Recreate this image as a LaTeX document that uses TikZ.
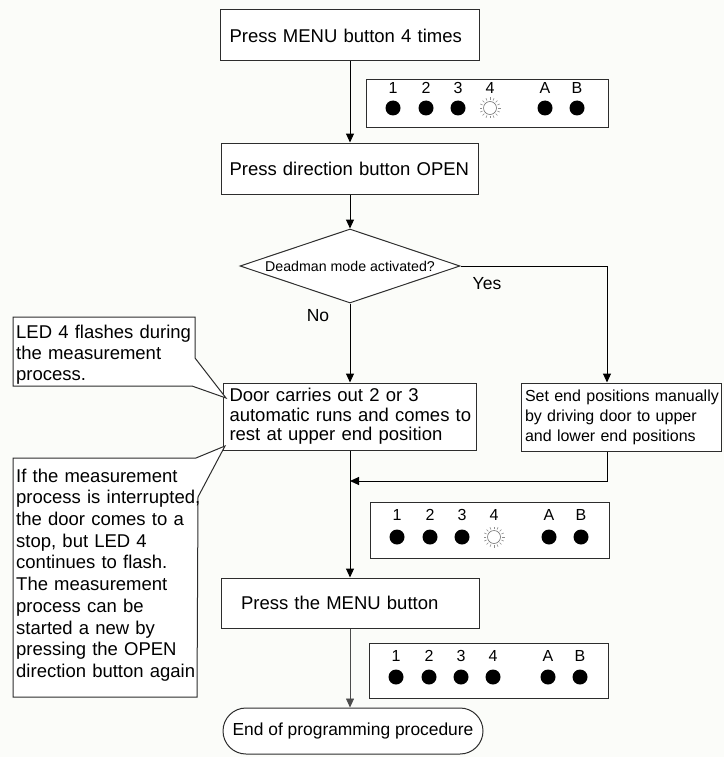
\documentclass[tikz,border=0pt]{standalone}
\usepackage{fontspec}
\setmainfont{Liberation Sans}
\usetikzlibrary{shapes.geometric,arrows.meta}
\definecolor{paper}{RGB}{251,252,249}
\definecolor{ink}{RGB}{45,45,45}

% one row of LED labels and dots; LED 4 is drawn separately
% #1 panel left x, #2 panel top y, #3 label row offset, #4 dot row offset, #5 panel name
\newcommand\ledrow[5]{%
  \foreach \lab/\dx in {1/27,2/60,3/92,4/124,A/179,B/211}{
    \node[ledlabel] (#5-\lab) at (#1+\dx,#2+#3) {\lab};
  }
  \foreach \dx in {27,60,92,179,211}{
    \fill[black] (#1+\dx,#2+#4) circle (7.5pt);
  }
}
% a flashing LED: open circle with short rays
\newcommand\ledflash[2]{%
  \draw[draw=black!55, line width=0.6pt, fill=white] (#1,#2) circle (6.5pt);
  \foreach \a in {0,22.5,...,337.5}{
    \draw[black!45, line width=0.6pt] ([shift={(\a:8pt)}]#1,#2) -- ([shift={(\a:10.5pt)}]#1,#2);
  }
}
% an unbreakable line of text
\newcommand\oneline[1]{\mbox{#1}}

\begin{document}
\begin{tikzpicture}[x=1pt,y=-1pt,
  every node/.style={font=\fontsize{18.5}{19.5}\selectfont, text=black},
  box/.style={draw=ink, line width=1pt, fill=white, inner ysep=0pt, align=left},
  flow/.style={-{Triangle[length=9pt,width=8pt]}, line width=1pt, draw=black},
  thinflow/.style={-{Triangle[length=9pt,width=8pt]}, line width=0.7pt, draw=black!70},
  panel/.style={draw=ink, line width=1pt, fill=white, inner sep=0pt, anchor=north west},
  ledlabel/.style={font=\fontsize{16}{16}\selectfont, inner sep=0pt},
  note/.style={draw=ink, line width=1pt, fill=white, line join=miter},
  notetext/.style={inner sep=0pt, anchor=north west, align=left, text width=186pt}]

\fill[paper] (0,0) rectangle (724,757);
\useasboundingbox (0,0) rectangle (724,757);

% main flow
\node[box, minimum width=259pt, minimum height=51pt, text width=241pt] (b1) at (350,35.5) {\oneline{Press MENU button 4 times}};
\node[box, minimum width=257pt, minimum height=51pt, text width=241pt] (b2) at (350,168.5) {\oneline{Press direction button OPEN}};
\node[diamond, draw=ink, line width=1pt, fill=white, minimum width=220pt, minimum height=74pt, inner sep=0pt,
      label={[font=\fontsize{14.2}{15}\selectfont, inner sep=0pt]center:Deadman mode activated?}] (dec) at (350,266) {};
\node[box, minimum width=253pt, minimum height=67pt, text width=241pt] (door) at (350,416.5)
  {\oneline{Door carries out 2 or 3}\\\oneline{automatic runs and comes to}\\\oneline{rest at upper end position}};
\node[box, minimum width=199pt, minimum height=68pt, text width=193pt, font=\fontsize{16}{20}\selectfont] (set) at (621.5,417)
  {\oneline{Set end positions manually}\\\oneline{by driving door to upper}\\\oneline{and lower end positions}};
\node[box, minimum width=258pt, minimum height=50pt, text width=218pt] (menu) at (350,603) {\oneline{Press the MENU button}};
\node[draw=ink, line width=1pt, fill=white, rounded corners=23pt, minimum width=260pt, minimum height=46pt,
      font=\fontsize{17.4}{18}\selectfont] (end) at (353,731) {End of programming procedure};

\node (yes) at (487,284) {\fontsize{17.5}{18}\selectfont Yes};
\node (no) at (318,316) {\fontsize{17.5}{18}\selectfont No};

% connectors
\coordinate (yc) at (607,266);
\coordinate (join) at (350,481);
\draw[flow] (b1) -- (b2);
\draw[flow] (b2) -- (dec);
\draw[flow] (dec) -- (door);
\draw[flow] (dec.east) -- (yc) -- (yc |- set.north);
\draw[flow] (yc |- set.south) |- (join);
\draw[flow] (door) -- (menu);
\draw[thinflow] (menu.south) -- (menu.south |- end.north);

% LED panels
\node[panel, minimum width=242pt, minimum height=48pt] (p1) at (366,79) {};
\ledrow{366}{79}{9}{29}{p1}
\ledflash{490}{108}

\node[panel, minimum width=239pt, minimum height=56pt] (p2) at (370,502) {};
\ledrow{370}{502}{13}{35}{p2}
\ledflash{494}{537}

\node[panel, minimum width=239pt, minimum height=55pt] (p3) at (369,643) {};
\ledrow{369}{643}{13}{34}{p3}
\fill[black] (369+124,643+34) circle (7.5pt);

% callouts
\draw[note] (13,317) -- (195,317) -- (195,358) -- (226,398) -- (192,386) -- (13,386) -- cycle;
\node[notetext, text width=180pt, font=\fontsize{18.5}{21}\selectfont] (n1) at (16,324.5)
  {\oneline{LED 4 flashes during}\\\oneline{the measurement}\\\oneline{process.}};

\draw[note] (13,458) -- (196,458) -- (225,446) -- (198,497) -- (197,697) -- (13,697) -- cycle;
\node[notetext, font=\fontsize{18.5}{21.7}\selectfont] (n2) at (16,468.5)
  {\oneline{If the measurement}\\\oneline{process is interrupted,}\\\oneline{the door comes to a}\\\oneline{stop, but LED 4}\\\oneline{continues to flash.}\\\oneline{The measurement}\\\oneline{process can be}\\\oneline{started a new by}\\\oneline{pressing the OPEN}\\\oneline{direction button again}};

\end{tikzpicture}
\end{document}
